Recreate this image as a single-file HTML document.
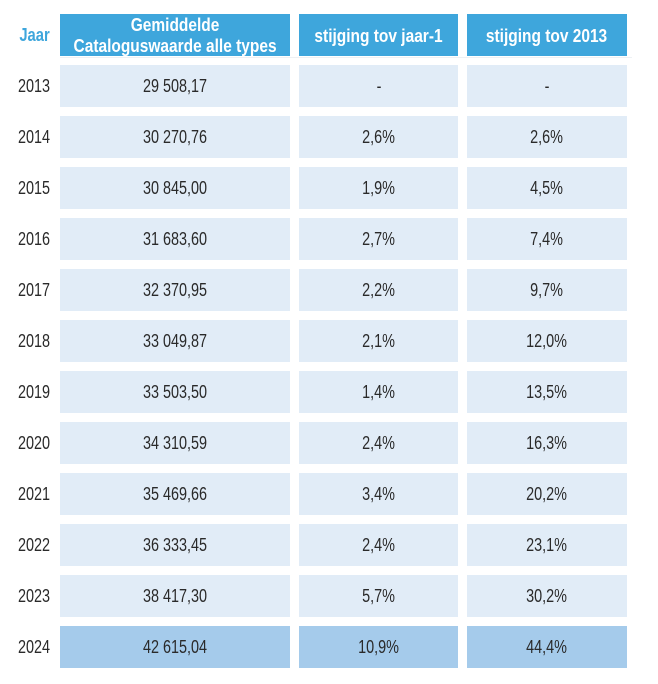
<!DOCTYPE html>
<html><head><meta charset="utf-8"><style>
html,body{margin:0;padding:0;background:#fff;}
body{width:658px;height:684px;position:relative;overflow:hidden;font-family:"Liberation Sans",sans-serif;}
span.t{display:inline-block;transform:scaleX(0.8);transform-origin:center;white-space:nowrap;}
.h{position:absolute;top:14px;height:42px;background:#3ea6dc;color:#fff;font-weight:bold;font-size:18px;line-height:21px;display:flex;align-items:center;justify-content:center;text-align:center;}
.h span.t{transform:scaleX(0.86);padding-top:2px;}
.c{position:absolute;height:42px;background:#e1ecf7;color:#2a2a2a;font-size:18px;display:flex;align-items:center;justify-content:center;}
.c.hl{background:#a5cbeb;}
.y{position:absolute;left:12px;width:45px;height:42px;color:#2a2a2a;font-size:18px;display:flex;align-items:center;justify-content:center;}
.jaar{position:absolute;left:12px;width:45px;top:14px;height:42px;color:#3ea6dc;font-weight:bold;font-size:18px;display:flex;align-items:center;justify-content:center;}
.jaar span.t{transform:scaleX(0.82);}
.line{position:absolute;left:60px;width:572px;top:57px;height:1px;background:#eef1f4;}
</style></head><body>
<div class="jaar"><span class="t">Jaar</span></div>
<div class="h" style="left:60px;width:230px;"><span class="t">Gemiddelde<br>Cataloguswaarde alle types</span></div>
<div class="h" style="left:299px;width:159px;"><span class="t">stijging tov jaar-1</span></div>
<div class="h" style="left:467px;width:160px;"><span class="t">stijging tov 2013</span></div>
<div class="line"></div>

<div class="y" style="top:65px"><span class="t">2013</span></div><div class="c" style="top:65px;left:60px;width:230px"><span class="t">29 508,17</span></div><div class="c" style="top:65px;left:299px;width:159px"><span class="t">-</span></div><div class="c" style="top:65px;left:467px;width:160px"><span class="t">-</span></div>
<div class="y" style="top:116px"><span class="t">2014</span></div><div class="c" style="top:116px;left:60px;width:230px"><span class="t">30 270,76</span></div><div class="c" style="top:116px;left:299px;width:159px"><span class="t">2,6%</span></div><div class="c" style="top:116px;left:467px;width:160px"><span class="t">2,6%</span></div>
<div class="y" style="top:167px"><span class="t">2015</span></div><div class="c" style="top:167px;left:60px;width:230px"><span class="t">30 845,00</span></div><div class="c" style="top:167px;left:299px;width:159px"><span class="t">1,9%</span></div><div class="c" style="top:167px;left:467px;width:160px"><span class="t">4,5%</span></div>
<div class="y" style="top:218px"><span class="t">2016</span></div><div class="c" style="top:218px;left:60px;width:230px"><span class="t">31 683,60</span></div><div class="c" style="top:218px;left:299px;width:159px"><span class="t">2,7%</span></div><div class="c" style="top:218px;left:467px;width:160px"><span class="t">7,4%</span></div>
<div class="y" style="top:269px"><span class="t">2017</span></div><div class="c" style="top:269px;left:60px;width:230px"><span class="t">32 370,95</span></div><div class="c" style="top:269px;left:299px;width:159px"><span class="t">2,2%</span></div><div class="c" style="top:269px;left:467px;width:160px"><span class="t">9,7%</span></div>
<div class="y" style="top:320px"><span class="t">2018</span></div><div class="c" style="top:320px;left:60px;width:230px"><span class="t">33 049,87</span></div><div class="c" style="top:320px;left:299px;width:159px"><span class="t">2,1%</span></div><div class="c" style="top:320px;left:467px;width:160px"><span class="t">12,0%</span></div>
<div class="y" style="top:371px"><span class="t">2019</span></div><div class="c" style="top:371px;left:60px;width:230px"><span class="t">33 503,50</span></div><div class="c" style="top:371px;left:299px;width:159px"><span class="t">1,4%</span></div><div class="c" style="top:371px;left:467px;width:160px"><span class="t">13,5%</span></div>
<div class="y" style="top:422px"><span class="t">2020</span></div><div class="c" style="top:422px;left:60px;width:230px"><span class="t">34 310,59</span></div><div class="c" style="top:422px;left:299px;width:159px"><span class="t">2,4%</span></div><div class="c" style="top:422px;left:467px;width:160px"><span class="t">16,3%</span></div>
<div class="y" style="top:473px"><span class="t">2021</span></div><div class="c" style="top:473px;left:60px;width:230px"><span class="t">35 469,66</span></div><div class="c" style="top:473px;left:299px;width:159px"><span class="t">3,4%</span></div><div class="c" style="top:473px;left:467px;width:160px"><span class="t">20,2%</span></div>
<div class="y" style="top:524px"><span class="t">2022</span></div><div class="c" style="top:524px;left:60px;width:230px"><span class="t">36 333,45</span></div><div class="c" style="top:524px;left:299px;width:159px"><span class="t">2,4%</span></div><div class="c" style="top:524px;left:467px;width:160px"><span class="t">23,1%</span></div>
<div class="y" style="top:575px"><span class="t">2023</span></div><div class="c" style="top:575px;left:60px;width:230px"><span class="t">38 417,30</span></div><div class="c" style="top:575px;left:299px;width:159px"><span class="t">5,7%</span></div><div class="c" style="top:575px;left:467px;width:160px"><span class="t">30,2%</span></div>
<div class="y" style="top:626px"><span class="t">2024</span></div><div class="c hl" style="top:626px;left:60px;width:230px"><span class="t">42 615,04</span></div><div class="c hl" style="top:626px;left:299px;width:159px"><span class="t">10,9%</span></div><div class="c hl" style="top:626px;left:467px;width:160px"><span class="t">44,4%</span></div>
</body></html>
